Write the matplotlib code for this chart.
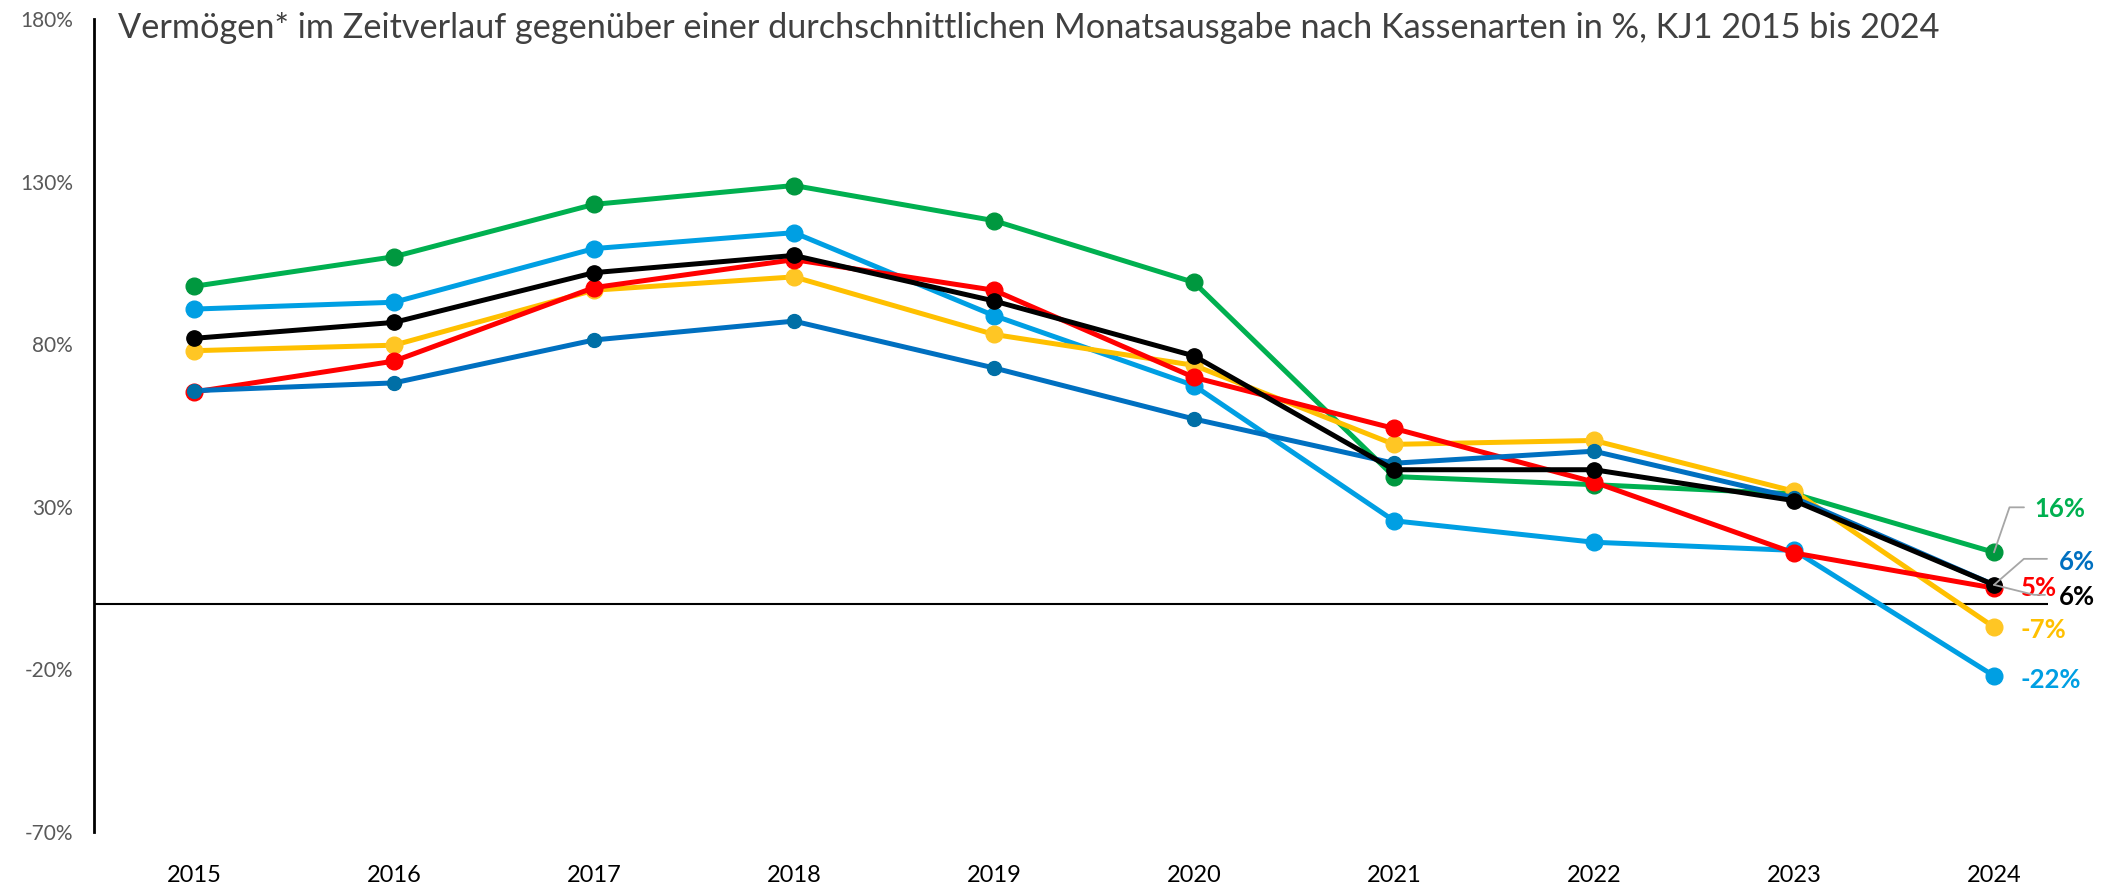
import matplotlib.pyplot as plt

plt.rcParams['font.family'] = ['Lato', 'DejaVu Sans']

years = ['2015', '2016', '2017', '2018', '2019', '2020', '2021', '2022', '2023', '2024']

# Vermögen in % einer Monatsausgabe
gruen = [97.8, 106.9, 123.0, 128.8, 118.0, 99.0, 39.3, 36.8, 34.0, 16]
hellblau = [90.8, 92.9, 109.4, 114.3, 88.8, 67.3, 25.7, 19.1, 16.6, -22]
gelb = [78.0, 79.7, 96.6, 100.7, 83.0, 73.5, 49.2, 50.4, 34.8, -7]
rot = [65.3, 74.8, 97.4, 106.0, 96.6, 69.8, 54.1, 37.6, 15.8, 5]
dunkelblau = [65.7, 68.1, 81.3, 87.1, 72.7, 57.0, 43.4, 47.1, 32.8, 6]
schwarz = [81.8, 86.7, 102.0, 107.3, 93.3, 76.4, 41.4, 41.4, 31.9, 6]

yticks = [-70, -20, 30, 80, 130, 180]

fig = plt.figure(figsize=(21.03, 8.84), dpi=100)
ax = fig.add_axes([94 / 2103, 1 - 832 / 884, (2048 - 94) / 2103, (832 - 19) / 884])

x = list(range(len(years)))
#(werte, linienfarbe, markerfarbe, markergroesse)
series = [
    (gruen, '#00B050', '#00983F', 12),
    (hellblau, '#009FE3', '#009FE3', 12),
    (gelb, '#FFC000', '#FFC624', 12),
    (rot, '#FF0000', '#FF0000', 12),
    (dunkelblau, '#0070C0', '#006FA6', 10),
    (schwarz, '#000000', '#000000', 11),
]
for vals, lc, mc, ms in series:
    ax.plot(x, vals, color=lc, lw=3.6, marker='o', ms=ms, mfc=mc, mec=mc,
            solid_capstyle='round', zorder=3)

ax.axhline(0, color='black', lw=1.5, zorder=2)

ax.set_xlim(-0.5, 9.27)
ax.set_ylim(-70, 180)
ax.set_yticks(yticks)
ax.set_yticklabels([f'{t}%' for t in yticks], color='#595959', fontsize=15)
ax.set_xticks(x)
ax.set_xticklabels(years, fontsize=17, color='black')
ax.tick_params(axis='both', length=0)
ax.tick_params(axis='y', pad=15)
ax.tick_params(axis='x', pad=24)

for s in ['top', 'right', 'bottom']:
    ax.spines[s].set_visible(False)
ax.spines['left'].set_linewidth(2)

# Endwerte 2024
last = len(years) - 1
labels = [
    (gruen[-1], '16%', '#00B050', (40, 43)),
    (dunkelblau[-1], '6%', '#0070C0', (65, 23)),
    (rot[-1], '5%', '#FF0000', (27, 0)),
    (schwarz[-1], '6%', '#000000', (65, -12)),
    (gelb[-1], '-7%', '#FFC000', (27, -3)),
    (hellblau[-1], '-22%', '#009FE3', (27, -4)),
]
for v, txt, col, off in labels:
    ax.annotate(txt, xy=(last, v), xytext=off, textcoords='offset pixels',
                ha='left', va='center', fontsize=18.5, fontweight='bold', color=col,
                annotation_clip=False, zorder=5)

# Führungslinien (Start neben dem Text, Winkel zum Punkt)
leaders = [(gruen[-1], (30, 45), 71), (dunkelblau[-1], (53, 26), 41), (schwarz[-1], (51, -10), -14)]
for v, start, ang in leaders:
    ax.annotate('', xy=(last, v), xytext=start, textcoords='offset pixels',
                annotation_clip=False, zorder=6,
                arrowprops=dict(arrowstyle='-', color='#A6A6A6', lw=1.3,
                                connectionstyle=f'angle,angleA=0,angleB={ang},rad=0',
                                shrinkA=0, shrinkB=0))

fig.text(118 / 2103, 1 - 28 / 884,
         'Vermögen* im Zeitverlauf gegenüber einer durchschnittlichen Monatsausgabe nach Kassenarten in %, KJ1 2015 bis 2024',
         ha='left', va='center', fontsize=24.7, color='#404040')

fig.savefig('out.png', dpi=100)
